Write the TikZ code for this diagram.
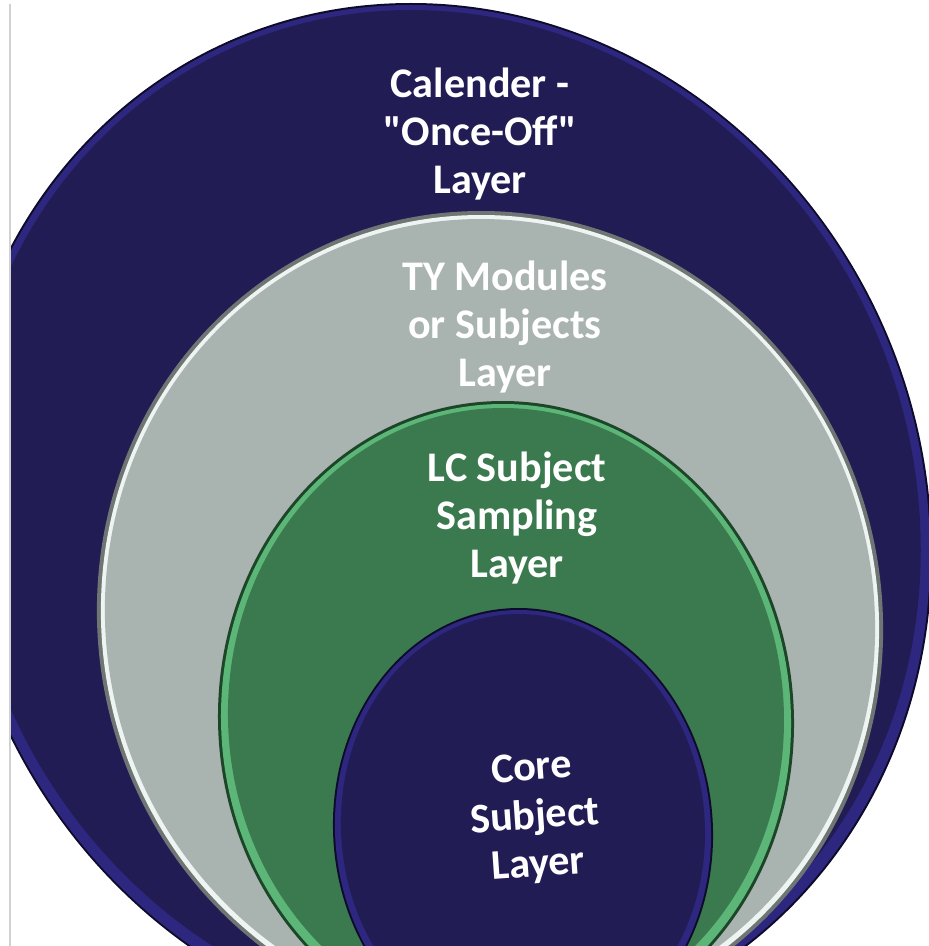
\documentclass[tikz,border=0pt]{standalone}
\usepackage{fontspec}
\setmainfont{Carlito}
\newfontfamily\plainquotes{Carlito}
\definecolor{navy}{HTML}{221C55}
\definecolor{navyrim}{HTML}{2D2780}
\definecolor{navyedge}{HTML}{0E0B2A}
\definecolor{slate}{HTML}{A9B3B0}
\definecolor{slateshine}{HTML}{EEF4F2}
\definecolor{slateshadow}{HTML}{6F7573}
\definecolor{leaf}{HTML}{3B7A4E}
\definecolor{leafrim}{HTML}{5CB678}
\definecolor{leafedge}{HTML}{1D4629}
\tikzset{
  layertext/.style={text=white, align=center, font=\bfseries\fontsize{24}{27.5}\selectfont},
}
\begin{document}
\begin{tikzpicture}[x=0.02cm, y=-0.02cm]
	\useasboundingbox (0,0) rectangle (929,946);
	\fill[white] (0,0) rectangle (929,946);
	\draw[black!18, line width=0.6pt] (10,4) -- (10,946);
	\begin{scope}
		\clip (11,0) rectangle (929,946);
		% calendar layer
		\begin{scope}[shift={(442,521)}, xslant=-0.06]
			\fill[navyedge] (0,0) ellipse (489 and 518);
			\fill[navyrim] (0,0) ellipse (487 and 516);
			\fill[navy] (0,-4) ellipse (478 and 507);
		\end{scope}
		% TY layer
		\begin{scope}[shift={(490,620)}, xslant=-0.022]
			\fill[slateshadow] (0,0) ellipse (393 and 409);
			\fill[slateshine] (0,0) ellipse (389 and 405);
			\fill[slate] (0,-1) ellipse (385 and 400);
		\end{scope}
		% LC layer
		\begin{scope}[shift={(506,720)}, xslant=-0.01]
			\fill[leafedge] (0,0) ellipse (288 and 319);
			\fill[leafrim] (0,0) ellipse (285 and 316);
			\fill[leaf] (0,-3) ellipse (278 and 309);
		\end{scope}
		% core layer
		\begin{scope}[shift={(523,830)}, xslant=-0.02]
			\fill[navyedge] (0,0) ellipse (190 and 222);
			\fill[navyrim] (0,0) ellipse (188 and 220);
			\fill[navy] (0,-2) ellipse (182 and 214);
		\end{scope}
	\end{scope}
	\node[layertext] (cal) at (480,134) {Calender -\\{\plainquotes"}Once-Off{\plainquotes"}\\Layer};
	\node[layertext] (ty) at (505,327) {TY Modules\\or Subjects\\Layer};
	\node[layertext] (lc) at (517,518) {LC Subject\\Sampling\\Layer};
	\node[layertext, rotate=4] (core) at (535,818) {Core\\Subject\\Layer};
\end{tikzpicture}
\end{document}
